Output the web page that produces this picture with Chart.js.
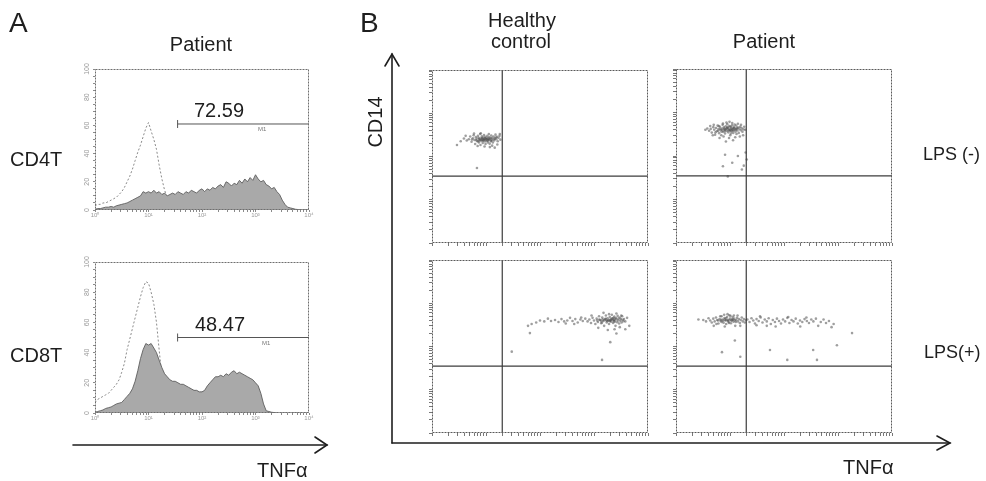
<!DOCTYPE html>
<html><head><meta charset="utf-8">
<script src="https://cdn.jsdelivr.net/npm/chart.js@4.4.1/dist/chart.umd.min.js"></script>
<style>
html,body{margin:0;padding:0;background:#fff;}
#fig{position:relative;width:986px;height:481px;overflow:hidden;font-family:"Liberation Sans",Arial,Helvetica,sans-serif;color:#1e1e1e;}
.box{position:absolute;}
.t{position:absolute;white-space:nowrap;line-height:1;font-size:20px;}
.c{transform:translateX(-50%);}
.m1{position:absolute;white-space:nowrap;line-height:1;font-size:6px;color:#777;}
svg{position:absolute;left:0;top:0;}
</style></head><body>
<div id="fig">
  <div class="box" style="left:73px;top:61px;width:248px;height:165px;"><canvas id="hCD4"></canvas></div>
  <div class="box" style="left:73px;top:254px;width:248px;height:175px;"><canvas id="hCD8"></canvas></div>
  <div class="box" style="left:426px;top:66px;width:226px;height:183px;"><canvas id="dHcNeg"></canvas></div>
  <div class="box" style="left:670px;top:65px;width:226px;height:184px;"><canvas id="dPtNeg"></canvas></div>
  <div class="box" style="left:426px;top:256px;width:226px;height:183px;"><canvas id="dHcPos"></canvas></div>
  <div class="box" style="left:670px;top:256px;width:226px;height:183px;"><canvas id="dPtPos"></canvas></div>

  <svg width="986" height="481" viewBox="0 0 986 481">
    <g stroke="#1e1e1e" stroke-width="1.6" fill="none" stroke-linecap="round">
      <line x1="73" y1="445" x2="327" y2="445"/>
      <polyline points="315,437 327,445 315,453"/>
      <line x1="392" y1="443" x2="392" y2="54"/>
      <polyline points="385,66 392,54 399,66"/>
      <line x1="392" y1="443" x2="950" y2="443"/>
      <polyline points="937,436 950,443 937,450"/>
    </g>
  </svg>

  <div class="t" style="left:9px;top:9px;font-size:28px;">A</div>
  <div class="t" style="left:360px;top:9px;font-size:28px;">B</div>
  <div class="t c" id="titleA" style="left:201px;top:34px;"></div>
  <div class="t c" id="titleHc1" style="left:522px;top:10px;"></div>
  <div class="t c" id="titleHc2" style="left:521px;top:31px;"></div>
  <div class="t c" id="titleB" style="left:764px;top:31px;"></div>
  <div class="t" id="rowCD4" style="left:10px;top:149px;"></div>
  <div class="t" id="rowCD8" style="left:10px;top:345px;"></div>
  <div class="t" id="rowNeg" style="left:923px;top:145px;font-size:18px;"></div>
  <div class="t" id="rowPos" style="left:924px;top:343px;font-size:18px;"></div>
  <div class="t" id="yTitleB" style="left:375px;top:122px;transform:translate(-50%,-50%) rotate(-90deg);"></div>
  <div class="t" id="xTitleA" style="left:257px;top:460px;"></div>
  <div class="t" id="xTitleB" style="left:843px;top:457px;"></div>
  <div class="t c" id="m1CD4" style="left:219px;top:100px;"></div>
  <div class="t c" id="m1CD8" style="left:220px;top:314px;"></div>
  <div class="m1" id="gateCD4" style="left:258px;top:126px;"></div>
  <div class="m1" id="gateCD8" style="left:262px;top:340px;"></div>
</div>
<script>
// ---------- labels ----------
const panelATitle = "Patient";
const panelBColumns = ["Healthy", "control", "Patient"];
const histRows = ["CD4T", "CD8T"];
const dotRows = ["LPS (-)", "LPS(+)"];
const axisX = "TNFα";
const axisY = "CD14";
const m1Values = ["72.59", "48.47"];
const gateName = "M1";

// ---------- histogram data (panel A) ----------
const binTNF = [1,1.12,1.26,1.41,1.58,1.78,2,2.24,2.51,2.82,3.16,3.55,3.98,4.47,5.01,5.62,6.31,7.08,7.94,8.91,
  10,11.2,12.6,14.1,15.8,17.8,20,22.4,25.1,28.2,31.6,35.5,39.8,44.7,50.1,56.2,63.1,70.8,79.4,89.1,
  100,112,126,141,158,178,200,224,251,282,316,355,398,447,501,562,631,708,794,891,
  1000,1122,1259,1413,1585,1778,1995,2239,2512,2818,3162,3548,3981,4467,5012,5623,6310,7079,7943,8913,10000];
const cd4Patient = [0.5,1,1,1.5,2,2,2.5,2,3,3.5,4,4.5,5,6,7,8,9,10,13,12,
  13,12,14,12,13,11,12,10,11,12,11,13,12,11,13,12,14,13,12,14,
  15,13,15,14,16,15,17,18,16,20,19,17,19,18,21,19,22,20,23,21,
  25,22,20,21,18,17,15,16,13,11,7,4,2,1.5,1,0.5,0.3,0,0,0,0];
const cd4Control = [3,4,4,5,5,6,7,8,9,11,13,16,20,24,29,35,41,46,52,58,
  62,56,50,43,32,22,14,9,6,4,3,2,2,1.5,1,1,1,0.5,0.5,0.5,
  0.5,0.3,0.3,0.3,0.2,0.2,0.2,0,0,0,0,0,0,0,0,0,0,0,0,0,
  0,0,0,0,0,0,0,0,0,0,0,0,0,0,0,0,0,0,0,0,0];
const cd8Patient = [0.5,1,1.5,2,3,3.5,4,5,6,6.5,7,9,11,13,16,21,28,36,42,46,
  45,46,43,40,35,30,26,24,22,21,21,20,19,19,18,17,16,15,15,14,
  14,15,18,20,22,24,24,25,24,26,25,27,28,26,27,26,25,24,23,22,
  20,18,13,6,1.5,1,0.5,0.3,0,0,0,0,0,0,0,0,0,0,0,0,0];
const cd8Control = [7,9,10,11,12,13,15,17,19,22,27,33,42,49,56,63,70,77,83,87,
  86,80,72,60,42,24,14,8,5,3,2,1.5,1,1,0.5,0.5,0.5,0.3,0.3,0.3,
  0,0,0,0,0,0,0,0,0,0,0,0,0,0,0,0,0,0,0,0,
  0,0,0,0,0,0,0,0,0,0,0,0,0,0,0,0,0,0,0,0,0];
const m1Start = 35, m1End = 10000;
const m1Levels = [61, 50];
const histYTicks = [0,5,10,15,20,25,30,35,40,45,50,55,60,65,70,75,80,85,90,95,100];
const logTicks = [1,2,3,4,5,6,7,8,9,10,20,30,40,50,60,70,80,90,100,200,300,400,500,600,700,800,900,
  1000,2000,3000,4000,5000,6000,7000,8000,9000,10000];
const decadeLabels = {1:"10⁰",10:"10¹",100:"10²",1000:"10³",10000:"10⁴"};

// ---------- dot plot data (panel B), [TNFα, CD14] ----------
const quadrantTNF = 20, quadrantCD14 = 35;
const hcLpsNeg = [[4.8,250],[5.1,290],[5.4,220],[5.7,265],[5.9,310],[6.1,240],[6.3,195],[6.5,280],[6.7,255],[6.9,225],
  [7.1,300],[7.3,270],[7.4,210],[7.6,245],[7.8,330],[7.9,185],[8.1,262],[8.2,228],[8.4,295],[8.6,250],
  [8.7,205],[8.9,275],[9.0,238],[9.2,315],[9.3,258],[9.5,222],[9.7,285],[9.8,195],[10.0,250],[10.2,270],
  [10.4,230],[10.6,300],[10.8,212],[11.0,262],[11.2,240],[11.5,282],[11.7,198],[12.0,255],[12.3,225],[12.5,305],
  [12.8,245],[13.1,270],[13.4,210],[13.8,290],[14.2,235],[14.6,262],[15.0,320],[15.5,250],[16.0,285],[16.5,225],
  [17.0,270],[17.8,300],[18.5,245],[7.0,175],[9.4,170],[11.3,330],[8.0,345],[6.0,340],[13.0,178],[16.2,190],
  [7.7,238],[8.3,244],[8.8,232],[9.1,248],[9.9,242],[10.5,256],[11.4,252],[12.2,266],[7.5,256],[8.5,268],
  [6.6,238],[7.2,226],[9.6,262],[10.9,236],[12.6,232],[14.0,250],[15.2,275],[5.5,248],[4.4,235],[3.9,260],
  [3.4,225],[2.9,185],[6.8,54],[4.2,300],[18.0,330],[14.5,160],[11.8,165]];
const ptLpsNeg = [[4.1,380],[4.4,420],[4.6,345],[4.9,460],[5.1,400],[5.3,310],[5.5,440],[5.7,370],[5.9,500],[6.1,415],
  [6.3,335],[6.5,470],[6.7,390],[6.9,300],[7.1,430],[7.3,520],[7.5,360],[7.7,455],[7.9,400],[8.1,330],
  [8.3,480],[8.5,420],[8.7,375],[8.9,540],[9.1,445],[9.3,350],[9.5,410],[9.7,490],[9.9,380],[10.1,300],
  [10.3,455],[10.5,420],[10.7,365],[10.9,510],[11.1,400],[11.3,440],[11.5,340],[11.8,470],[12.1,395],[12.4,430],
  [12.7,360],[13.0,500],[13.3,415],[13.7,385],[14.1,450],[14.5,340],[14.9,420],[15.4,470],[15.9,390],[16.4,440],
  [17.0,360],[17.6,410],[18.3,470],[19.0,400],[6.0,380],[6.6,420],[7.2,395],[7.8,425],[8.2,405],[8.8,435],
  [9.4,390],[10.0,400],[10.6,385],[11.2,415],[12.0,440],[12.8,405],[7.0,360],[8.0,370],[9.0,460],[10.2,475],
  [11.6,380],[13.6,445],[5.4,350],[6.2,490],[7.4,560],[8.6,590],[9.8,610],[11.0,570],[12.2,530],[14.0,550],
  [5.0,520],[4.3,490],[3.8,430],[3.5,400],[16.0,520],[17.5,300],[15.2,280],[12.5,270],[9.6,260],[7.6,280],
  [6.4,260],[11.4,230],[8.4,215],[10.4,330],[13.2,320],[4.8,300],[8.1,107],[7.4,58],[16.6,49],[9.1,34],
  [20.4,83],[18,60],[11,70],[14,100],[19.5,120]];
const hcLpsPos = [[760,380],[820,420],[880,350],[940,460],[1000,400],[1060,330],[1120,440],[1180,370],[1240,500],[1300,410],
  [1360,345],[1420,470],[1480,390],[1540,300],[1600,430],[1660,520],[1720,360],[1780,450],[1840,400],[1900,330],
  [1960,480],[2020,420],[2080,375],[2140,540],[2200,445],[2260,350],[2320,410],[2380,490],[2440,380],[2500,300],
  [2560,455],[2620,420],[2680,365],[2740,510],[2800,400],[2860,440],[2920,340],[3000,470],[3080,395],[3160,430],
  [3240,360],[3320,500],[3400,415],[3500,385],[1150,400],[1250,420],[1350,395],[1450,425],[1550,405],[1650,435],
  [1750,390],[1850,410],[1950,385],[2050,415],[2150,440],[2250,405],[2350,380],[2450,430],[1700,400],[2000,395],
  [2300,460],[1400,360],[1900,560],[2600,580],[1500,600],[3200,520],[900,520],[3600,430],[3800,380],[4100,460],
  [1200,270],[2400,250],[3000,280],[1800,240],
  [690,440],[620,390],[560,420],[500,360],[450,430],[400,390],[360,460],[320,400],[280,380],[250,430],
  [220,370],[190,410],[160,390],[140,440],[120,380],[100,400],[85,360],[70,330],[60,300],[580,470],[430,330],[300,340],
  [30,76],[65,204],[1410,49],[2000,126],[3800,250],[2600,200],[4500,300]];
const ptLpsPos = [[4.3,400],[4.6,360],[4.9,440],[5.2,380],[5.5,470],[5.8,410],[6.1,340],[6.4,430],[6.7,390],[7.0,500],
  [7.3,420],[7.6,355],[7.9,455],[8.2,400],[8.5,330],[8.8,480],[9.1,415],[9.4,370],[9.7,530],[10.0,440],
  [10.4,345],[10.8,405],[11.2,480],[11.6,375],[12.0,440],[12.5,300],[13.0,410],[13.5,460],[14.0,380],[14.6,430],
  [15.2,350],[15.8,410],[16.5,470],[17.2,380],[18.0,430],[18.8,360],[19.6,410],[6.0,400],[6.8,415],[7.4,395],
  [8.0,420],[8.6,405],[9.2,390],[9.8,410],[10.6,395],[11.4,420],[12.2,400],[7.0,370],[8.4,450],[9.6,350],
  [11.0,430],[12.8,370],[5.6,330],[6.6,500],[7.8,540],[9.0,560],[10.2,510],[11.8,520],[5.0,300],[8.0,290],
  [13.8,520],[15.5,300],[4.0,450],[3.6,380],[3.2,410],[2.6,420],
  [21,420],[23,370],[25,450],[27,400],[29,340],[31,430],[34,390],[37,470],[40,360],[44,420],
  [48,380],[52,450],[57,330],[62,410],[68,370],[74,440],[81,390],[88,340],[96,420],[105,380],
  [115,460],[126,350],[138,410],[150,380],[165,440],[180,340],[198,400],[218,370],[240,430],[265,390],
  [290,350],[320,420],[350,380],[390,440],[430,300],[480,370],[540,420],[600,350],[680,390],[760,280],[830,330],
  [31,310],[48,300],[70,290],[120,480],[200,290],[260,470],[36,500],
  [1820,204],[955,107],[55,83],[347,83],[115,49],[408,49],[7.1,74],[15.5,58],[12.3,138]];

// ---------- text ----------
const setText = (id, s) => { document.getElementById(id).textContent = s; };
setText('titleA', panelATitle);
setText('titleHc1', panelBColumns[0]);
setText('titleHc2', panelBColumns[1]);
setText('titleB', panelBColumns[2]);
setText('rowCD4', histRows[0]);
setText('rowCD8', histRows[1]);
setText('rowNeg', dotRows[0]);
setText('rowPos', dotRows[1]);
setText('yTitleB', axisY);
setText('xTitleA', axisX);
setText('xTitleB', axisX);
setText('m1CD4', m1Values[0]);
setText('m1CD8', m1Values[1]);
setText('gateCD4', gateName);
setText('gateCD8', gateName);

// ---------- plugins / helpers ----------
const framePlugin = {
  id: 'frame',
  afterDatasetsDraw(chart, args, opts) {
    const a = chart.chartArea, ctx = chart.ctx;
    ctx.save();
    ctx.strokeStyle = opts.color || '#666';
    ctx.lineWidth = 1;
    ctx.setLineDash(opts.dash || []);
    const l = Math.round(a.left) + 0.5, t = Math.round(a.top) + 0.5;
    const r = Math.round(a.right) - 0.5, b = Math.round(a.bottom) - 0.5;
    ctx.strokeRect(l, t, r - l, b - t);
    ctx.restore();
  }
};
const setTicks = list => s => { s.ticks = list.map(v => ({value: v})); };
const baseOpts = {
  animation: false, responsive: true, maintainAspectRatio: false, events: [],
  plugins: {legend: {display: false}, tooltip: {enabled: false}}
};

function histChart(id, patient, control, m1Level) {
  new Chart(document.getElementById(id), {
    type: 'line',
    data: {datasets: [
      {data: [{x: m1Start, y: m1Level}, {x: m1End, y: m1Level}], borderColor: '#555', borderWidth: 1,
       pointStyle: 'line', pointRotation: 90, pointRadius: [4, 0], pointBorderColor: '#555', pointBorderWidth: 1,
       pointBackgroundColor: '#555', fill: false, order: 0},
      {data: binTNF.map((x, i) => ({x, y: patient[i]})), fill: 'origin', backgroundColor: '#a9a9a9',
       borderColor: '#5e5e5e', borderWidth: 0.9, pointRadius: 0, tension: 0, order: 1},
      {data: binTNF.map((x, i) => ({x, y: control[i]})), fill: false, borderColor: '#8a8a8a',
       borderDash: [2, 2], borderWidth: 1, pointRadius: 0, tension: 0, order: 2}
    ]},
    options: Object.assign({}, baseOpts, {
      layout: {padding: {top: 8, right: 12, left: 0, bottom: 0}},
      plugins: Object.assign({}, baseOpts.plugins, {frame: {color: '#6e6e6e', dash: [2, 1]}}),
      scales: {
        x: {type: 'logarithmic', min: 1, max: 10000, afterBuildTicks: setTicks(logTicks),
            afterFit: s => { s.height = 16; },
            ticks: {autoSkip: false, minRotation: 0, maxRotation: 0, padding: 0, font: {size: 6}, color: '#9a9a9a',
                    callback: v => decadeLabels[v] || ''},
            grid: {display: true, drawOnChartArea: false, tickLength: 2, color: '#8a8a8a'}, border: {display: false}},
        y: {min: 0, max: 100, afterBuildTicks: setTicks(histYTicks), afterFit: s => { s.width = 22; },
            ticks: {autoSkip: false, minRotation: 90, maxRotation: 90, crossAlign: 'center', padding: 0,
                    font: {size: 7}, color: '#9a9a9a', callback: v => (v % 20 === 0 ? String(v) : '')},
            grid: {display: true, drawOnChartArea: false, tickLength: 2, color: '#8a8a8a'}, border: {display: false}}
      }
    }),
    plugins: [framePlugin]
  });
}

function dotChart(id, pts) {
  new Chart(document.getElementById(id), {
    type: 'scatter',
    data: {datasets: [
      {data: [{x: quadrantTNF, y: 1}, {x: quadrantTNF, y: 10000}], showLine: true, borderColor: '#3c3c3c',
       borderWidth: 1.2, pointRadius: 0, order: 0},
      {data: [{x: 1, y: quadrantCD14}, {x: 10000, y: quadrantCD14}], showLine: true, borderColor: '#3c3c3c',
       borderWidth: 1.2, pointRadius: 0, order: 0},
      {data: pts.map(p => ({x: p[0], y: p[1]})), pointRadius: 1.3, pointBackgroundColor: 'rgba(80,80,80,0.55)',
       pointBorderWidth: 0, order: 1}
    ]},
    options: Object.assign({}, baseOpts, {
      layout: {padding: {top: 4, right: 4, left: 0, bottom: 0}},
      plugins: Object.assign({}, baseOpts.plugins, {frame: {color: '#5a5a5a', dash: [2, 1]}}),
      scales: {
        x: {type: 'logarithmic', min: 1, max: 10000, afterBuildTicks: setTicks(logTicks),
            afterFit: s => { s.height = 6; }, ticks: {display: false, autoSkip: false},
            grid: {display: true, drawOnChartArea: false, tickLength: 3, color: '#777'}, border: {display: false}},
        y: {type: 'logarithmic', min: 1, max: 10000, afterBuildTicks: setTicks(logTicks),
            afterFit: s => { s.width = 6; }, ticks: {display: false, autoSkip: false},
            grid: {display: true, drawOnChartArea: false, tickLength: 3, color: '#777'}, border: {display: false}}
      }
    }),
    plugins: [framePlugin]
  });
}

histChart('hCD4', cd4Patient, cd4Control, m1Levels[0]);
histChart('hCD8', cd8Patient, cd8Control, m1Levels[1]);
dotChart('dHcNeg', hcLpsNeg);
dotChart('dPtNeg', ptLpsNeg);
dotChart('dHcPos', hcLpsPos);
dotChart('dPtPos', ptLpsPos);
</script>
</body></html>
